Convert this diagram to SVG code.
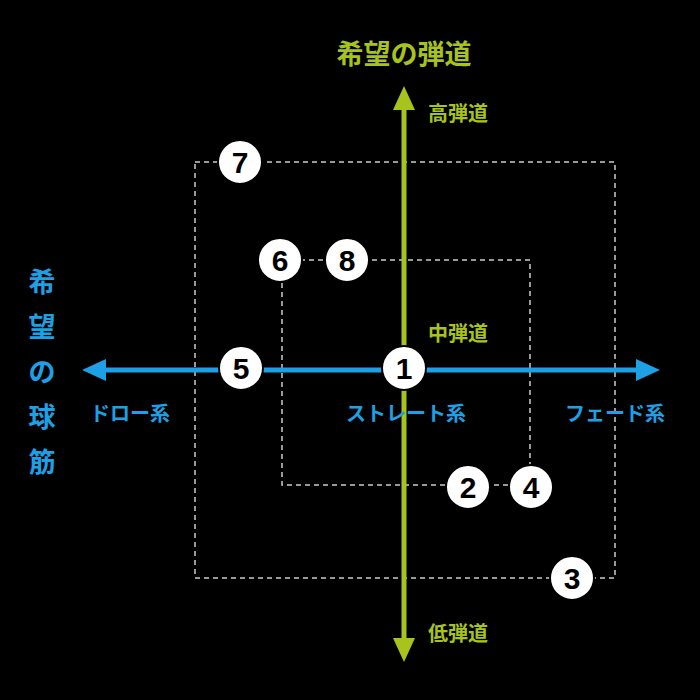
<svg xmlns="http://www.w3.org/2000/svg" width="700" height="700" viewBox="0 0 700 700">
<style>
.y{fill:#a8c31c;font-family:"Noto Sans CJK JP",sans-serif;font-weight:bold}
.b{fill:#1ea0e6;font-family:"Noto Sans CJK JP",sans-serif;font-weight:bold}
.d{fill:none;stroke:#cccccc;stroke-width:1.5;stroke-dasharray:5 4}
.c circle{fill:#fff;stroke:#000;stroke-width:2}
.c text{fill:#000;font-family:"Liberation Sans",sans-serif;font-weight:bold;font-size:30px;text-anchor:middle}
</style>
<rect width="700" height="700" fill="#000"/>
<g id="frames">
<rect class="d" x="195" y="162" width="420" height="416"/>
<rect class="d" x="282" y="260" width="248" height="225"/>
</g>
<g id="connectors">
<line x1="404" y1="108" x2="404" y2="640" stroke="#a8c31c" stroke-width="5"/>
<polygon points="404,86 393,110 415,110" fill="#a8c31c"/>
<polygon points="404,662 393,638 415,638" fill="#a8c31c"/>
<line x1="104" y1="370" x2="638" y2="370" stroke="#1ea0e6" stroke-width="5"/>
<polygon points="82,370 106,359 106,381" fill="#1ea0e6"/>
<polygon points="660,370 636,359 636,381" fill="#1ea0e6"/>
</g>
<g id="labels">
<text class="y" x="404" y="64" font-size="27" text-anchor="middle">希望の弾道</text>
<text class="y" x="428" y="121" font-size="20">高弾道</text>
<text class="y" x="428" y="341" font-size="20">中弾道</text>
<text class="y" x="428" y="641" font-size="20">低弾道</text>
<g class="b" font-size="27" text-anchor="middle">
<text x="42" y="292">希</text><text x="42" y="337">望</text><text x="42" y="382">の</text><text x="42" y="427">球</text><text x="42" y="472">筋</text>
</g>
<text class="b" x="130" y="421" font-size="20" text-anchor="middle">ドロー系</text>
<text class="b" x="406" y="421" font-size="20" text-anchor="middle">ストレート系</text>
<text class="b" x="615" y="421" font-size="20" text-anchor="middle">フェード系</text>
</g>
<g class="c">
<g id="n7"><circle cx="240" cy="162" r="22"/><text x="240" y="173">7</text></g>
<g id="n6"><circle cx="280" cy="260" r="22"/><text x="280" y="271">6</text></g>
<g id="n8"><circle cx="347" cy="260" r="22"/><text x="347" y="271">8</text></g>
<g id="n5"><circle cx="241" cy="368" r="22"/><text x="241" y="379">5</text></g>
<g id="n1"><circle cx="404" cy="368" r="22"/><text x="404" y="379">1</text></g>
<g id="n2"><circle cx="468" cy="487" r="22"/><text x="468" y="498">2</text></g>
<g id="n4"><circle cx="531" cy="487" r="22"/><text x="531" y="498">4</text></g>
<g id="n3"><circle cx="572" cy="578" r="22"/><text x="572" y="589">3</text></g>
</g>
</svg>
